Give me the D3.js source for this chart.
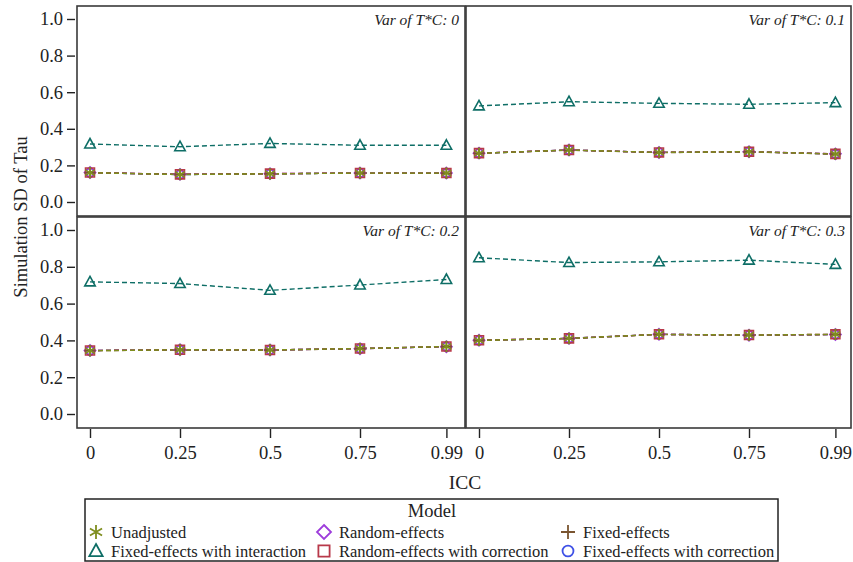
<!DOCTYPE html>
<html>
<head>
<meta charset="utf-8">
<script src="https://cdn.jsdelivr.net/npm/d3@7/dist/d3.min.js"></script>
<style>
html,body{margin:0;padding:0;background:#fff;}
svg, svg text{font-family:"Liberation Serif","DejaVu Serif","Times New Roman",Times,serif;}
</style>
</head>
<body>
<svg id="chart" width="853" height="562"></svg>
<script>
// ---------- data ----------
const icc = [0, 0.25, 0.5, 0.75, 0.99];
const iccLabels = ["0", "0.25", "0.5", "0.75", "0.99"];
const yTicks = [0, 0.2, 0.4, 0.6, 0.8, 1.0];
const panelLabels = ["Var of T*C: 0", "Var of T*C: 0.1", "Var of T*C: 0.2", "Var of T*C: 0.3"];
const seriesNames = ["Unadjusted", "Random-effects", "Fixed-effects",
  "Fixed-effects with interaction", "Random-effects with correction", "Fixed-effects with correction"];

// values per panel (panel order: 0, 0.1, 0.2, 0.3)
const unadjusted = [
  [0.160, 0.150, 0.154, 0.158, 0.158],
  [0.266, 0.284, 0.271, 0.275, 0.262],
  [0.344, 0.349, 0.348, 0.356, 0.367],
  [0.400, 0.411, 0.433, 0.429, 0.433]];
const randomEffects = [
  [0.161, 0.151, 0.155, 0.158, 0.158],
  [0.267, 0.284, 0.271, 0.275, 0.263],
  [0.345, 0.349, 0.348, 0.355, 0.366],
  [0.401, 0.411, 0.433, 0.428, 0.432]];
const fixedEffects = [
  [0.160, 0.151, 0.154, 0.158, 0.157],
  [0.266, 0.283, 0.270, 0.274, 0.262],
  [0.344, 0.348, 0.347, 0.355, 0.366],
  [0.400, 0.410, 0.432, 0.428, 0.432]];
const fixedInteraction = [
  [0.317, 0.302, 0.320, 0.310, 0.310],
  [0.525, 0.548, 0.539, 0.534, 0.543],
  [0.718, 0.709, 0.672, 0.701, 0.731],
  [0.849, 0.823, 0.827, 0.836, 0.813]];
const randomCorrection = [
  [0.161, 0.151, 0.155, 0.158, 0.158],
  [0.267, 0.284, 0.271, 0.275, 0.263],
  [0.345, 0.349, 0.348, 0.356, 0.367],
  [0.401, 0.411, 0.433, 0.429, 0.433]];
const fixedCorrection = [
  [0.160, 0.150, 0.154, 0.158, 0.158],
  [0.266, 0.284, 0.271, 0.275, 0.262],
  [0.345, 0.349, 0.348, 0.356, 0.366],
  [0.400, 0.411, 0.433, 0.429, 0.432]];

const seriesValues = [unadjusted, randomEffects, fixedEffects, fixedInteraction, randomCorrection, fixedCorrection];
const seriesColors = ["#7F8E1F", "#9D3CDB", "#7A5530", "#0E6E66", "#B8394A", "#3F51E6"];
const seriesSymbols = ["asterisk", "diamond", "plus", "triangle", "square", "circle"];
// draw order (back to front)
const drawOrder = [3, 5, 1, 4, 2, 0];

const FONT = "'Liberation Serif','DejaVu Serif','Times New Roman',Times,serif";

// ---------- layout ----------
const svg = d3.select("#chart");
const cols = [{x0: 77, x1: 465}, {x0: 466, x1: 851}];
const rows = [{y0: 6, y1: 216}, {y0: 217, y1: 428}];
const xPadL = 13, xPadR = 15;
const yPadT = 13, yPadB = 14;

function markerPath(type, r) {
  const p = d3.path();
  if (type === "triangle") {
    p.moveTo(0, -r); p.lineTo(r * 0.95, r * 0.72); p.lineTo(-r * 0.95, r * 0.72); p.closePath();
  } else if (type === "square") {
    const s = r * 0.8; p.rect(-s, -s, 2 * s, 2 * s);
  } else if (type === "diamond") {
    p.moveTo(0, -r); p.lineTo(r, 0); p.lineTo(0, r); p.lineTo(-r, 0); p.closePath();
  } else if (type === "circle") {
    p.arc(0, 0, r * 0.78, 0, 2 * Math.PI);
  } else if (type === "plus") {
    p.moveTo(-r, 0); p.lineTo(r, 0); p.moveTo(0, -r); p.lineTo(0, r);
  } else if (type === "asterisk") {
    p.moveTo(0, -r); p.lineTo(0, r);
    const a = Math.PI / 6;
    p.moveTo(-r * Math.cos(a), -r * Math.sin(a)); p.lineTo(r * Math.cos(a), r * Math.sin(a));
    p.moveTo(-r * Math.cos(a), r * Math.sin(a)); p.lineTo(r * Math.cos(a), -r * Math.sin(a));
  }
  return p.toString();
}

const panels = [];
for (let ri = 0; ri < 2; ri++) {
  for (let ci = 0; ci < 2; ci++) {
    const c = cols[ci], r = rows[ri];
    const x = d3.scaleLinear().domain([0, 1]).range([c.x0 + xPadL, c.x0 + 388 - xPadR]);
    const y = d3.scaleLinear().domain([0, 1]).range([r.y1 - yPadB, r.y0 + yPadT]);
    panels.push({ri, ci, c, r, x, y, idx: ri * 2 + ci});
  }
}

panels.forEach(p => {
  const g = svg.append("g");
  g.append("rect").attr("x", p.c.x0).attr("y", p.r.y0)
    .attr("width", p.c.x1 - p.c.x0).attr("height", p.r.y1 - p.r.y0)
    .attr("fill", "#fff").attr("stroke", "#3a3a3a").attr("stroke-width", 1.6);

  g.append("text").attr("x", p.c.x1 - 6).attr("y", p.r.y0 + 19)
    .attr("text-anchor", "end").attr("font-style", "italic").attr("font-size", 15.5)
    .style("font-family", FONT).attr("fill", "#222").text(panelLabels[p.idx]);

  if (p.ci === 0) {
    const ya = d3.axisLeft(p.y).tickValues(yTicks).tickFormat(d3.format(".1f"))
      .tickSize(8).tickPadding(4);
    const ag = svg.append("g").attr("transform", `translate(${p.c.x0 - 2},0)`).call(ya);
    ag.attr("font-family", null);
    ag.select(".domain").remove();
    ag.selectAll("line").attr("stroke", "#222").attr("stroke-width", 1.4);
    ag.selectAll("text").attr("font-size", 18.5).attr("fill", "#222").style("font-family", FONT);
  }
  if (p.ri === 1) {
    const xa = d3.axisBottom(p.x).tickValues(icc).tickFormat((d, i) => iccLabels[i])
      .tickSize(9).tickPadding(8);
    const ag = svg.append("g").attr("transform", `translate(0,${p.r.y1 + 1})`).call(xa);
    ag.attr("font-family", null);
    ag.select(".domain").remove();
    ag.selectAll("line").attr("stroke", "#222").attr("stroke-width", 1.4);
    ag.selectAll("text").attr("font-size", 18.5).attr("fill", "#222").style("font-family", FONT);
  }

  const line = d3.line().x((d, i) => p.x(icc[i])).y(d => p.y(d));
  drawOrder.forEach(si => {
    g.append("path").datum(seriesValues[si][p.idx]).attr("d", line)
      .attr("fill", "none").attr("stroke", seriesColors[si]).attr("stroke-width", 1.4)
      .attr("stroke-dasharray", "5,3");
  });
  drawOrder.forEach(si => {
    const rr = seriesSymbols[si] === "triangle" ? 5.5 : 5.6;
    seriesValues[si][p.idx].forEach((v, i) => {
      g.append("path").attr("d", markerPath(seriesSymbols[si], rr))
        .attr("transform", `translate(${p.x(icc[i])},${p.y(v)})`)
        .attr("fill", "none").attr("stroke", seriesColors[si]).attr("stroke-width", 1.6);
    });
  });
});

svg.append("text").attr("x", 465).attr("y", 489).attr("text-anchor", "middle")
  .attr("font-size", 19.5).attr("fill", "#222").style("font-family", FONT).text("ICC");
svg.append("text").attr("transform", "translate(27,217) rotate(-90)")
  .attr("text-anchor", "middle").attr("font-size", 18.5).attr("fill", "#222")
  .style("font-family", FONT).text("Simulation SD of Tau");

const lg = svg.append("g");
lg.append("rect").attr("x", 85).attr("y", 499).attr("width", 693).attr("height", 62)
  .attr("fill", "#fff").attr("stroke", "#222").attr("stroke-width", 1.5);
lg.append("text").attr("x", 432).attr("y", 517).attr("text-anchor", "middle")
  .attr("font-size", 18.5).attr("fill", "#222").style("font-family", FONT).text("Model");
const legCols = [96, 324, 568];
const legRows = [532, 551];
seriesNames.forEach((name, si) => {
  const col = si % 3, row = Math.floor(si / 3);
  const cx = legCols[col], cy = legRows[row];
  lg.append("path").attr("d", markerPath(seriesSymbols[si], 7))
    .attr("transform", `translate(${cx},${cy})`)
    .attr("fill", "none").attr("stroke", seriesColors[si]).attr("stroke-width", 1.8);
  lg.append("text").attr("x", cx + 15).attr("y", cy + 5.5).attr("font-size", 16.5)
    .attr("fill", "#222").style("font-family", FONT).text(name);
});
</script>
</body>
</html>
